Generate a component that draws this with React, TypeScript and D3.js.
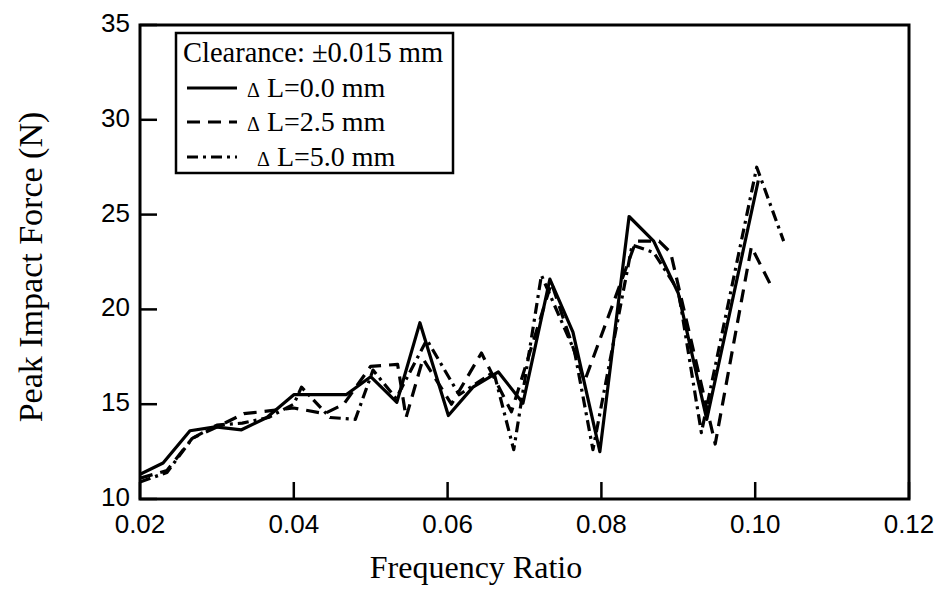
import React from "react";
import * as d3 from "d3";

const xTicks = [0.02, 0.04, 0.06, 0.08, 0.1, 0.12];
const yTicks = [10, 15, 20, 25, 30, 35];

const seriesNames = ["\u0394 L=0.0 mm", "\u0394 L=2.5 mm", "\u0394 L=5.0 mm"];

const x00 = [0.02, 0.023, 0.0265, 0.0298, 0.0332, 0.0365, 0.04, 0.0468, 0.05, 0.0534, 0.0564, 0.0601, 0.0633, 0.0666, 0.0698, 0.0733, 0.0763, 0.0798, 0.0836, 0.0868, 0.09, 0.0937, 0.1004];
const y00 = [11.3, 11.9, 13.6, 13.8, 13.65, 14.3, 15.5, 15.5, 16.45, 15.1, 19.3, 14.4, 15.9, 16.7, 15.05, 21.6, 18.8, 12.5, 24.9, 23.6, 20.85, 14.2, 26.8];

const x25 = [0.02, 0.0235, 0.0268, 0.03, 0.0335, 0.04, 0.044, 0.0465, 0.05, 0.0535, 0.0546, 0.0568, 0.0605, 0.0644, 0.0683, 0.0735, 0.0778, 0.0845, 0.0875, 0.089, 0.0948, 0.0995, 0.102];
const y25 = [11.1, 11.5, 13.2, 13.8, 14.5, 14.8, 14.5, 15.0, 17.0, 17.1, 14.3, 17.4, 15.0, 17.7, 14.6, 21.4, 16.2, 23.6, 23.6, 23.0, 12.9, 23.3, 21.3];

const x50 = [0.02, 0.0235, 0.0268, 0.03, 0.0333, 0.0367, 0.04, 0.041, 0.0447, 0.048, 0.0503, 0.0533, 0.0573, 0.0615, 0.066, 0.0686, 0.0722, 0.0765, 0.0789, 0.084, 0.0868, 0.09, 0.093, 0.1002, 0.1037];
const y50 = [10.9, 11.4, 13.2, 13.9, 14.0, 14.3, 15.0, 15.9, 14.3, 14.2, 16.8, 15.3, 18.4, 15.5, 16.7, 12.6, 21.8, 17.8, 12.6, 23.4, 23.0, 21.0, 13.5, 27.5, 23.6];

const W = 938;
const H = 611;
const left = 140, right = 909, top = 25, bottom = 499;

export default function App() {
  const x = d3.scaleLinear().domain([0.02, 0.12]).range([left, right]);
  const y = d3.scaleLinear().domain([10, 35]).range([bottom, top]);
  const line = d3
    .line<[number, number]>()
    .x((d) => x(d[0]))
    .y((d) => y(d[1]));
  const series = [
    { xs: x00, ys: y00, dash: "none" },
    { xs: x25, ys: y25, dash: "13 8" },
    { xs: x50, ys: y50, dash: "11 5 3 5" },
  ];
  const serif = "'Liberation Serif', 'DejaVu Serif', serif";
  const sans = "'Liberation Sans', Arial, sans-serif";
  const legendRows = [97, 131, 166];
  const legendTextX = [247, 247, 257];
  return (
    <svg width={W} height={H} style={{ position: "absolute", left: 0, top: 0, background: "#fff" }}>
      <rect x={0} y={0} width={W} height={H} fill="#fff" />
      <defs>
        <clipPath id="plot">
          <rect x={left} y={top} width={right - left} height={bottom - top} />
        </clipPath>
      </defs>
      {series.map((s, i) => (
        <path
          key={i}
          d={line(s.xs.map((v, j) => [v, s.ys[j]] as [number, number])) || ""}
          fill="none"
          stroke="#000"
          strokeWidth={3.2}
          strokeDasharray={s.dash}
          strokeLinejoin="round"
          clipPath="url(#plot)"
        />
      ))}
      {/* frame */}
      <rect x={left} y={top} width={right - left} height={bottom - top} fill="none" stroke="#000" strokeWidth={3} />
      {xTicks.map((t) => (
        <g key={"x" + t}>
          <line x1={x(t)} x2={x(t)} y1={bottom} y2={bottom - 17} stroke="#000" strokeWidth={2.5} />
          <text x={x(t)} y={533} textAnchor="middle" fontFamily={sans} fontSize={26}>
            {t.toFixed(2)}
          </text>
        </g>
      ))}
      {yTicks.map((t) => (
        <g key={"y" + t}>
          <line x1={left} x2={left + 17} y1={y(t)} y2={y(t)} stroke="#000" strokeWidth={2.5} />
          <text x={130} y={y(t) + 7} textAnchor="end" fontFamily={sans} fontSize={26}>
            {t}
          </text>
        </g>
      ))}
      <text x={476} y={578} textAnchor="middle" fontFamily={serif} fontSize={32}>
        Frequency Ratio
      </text>
      <text
        transform={`translate(42, ${(top + bottom) / 2 + 5}) rotate(-90)`}
        textAnchor="middle"
        fontFamily={serif}
        fontSize={34}
      >
        Peak Impact Force (N)
      </text>
      {/* legend */}
      <rect x={176} y={33} width={277} height={140} fill="#fff" stroke="#000" strokeWidth={2.5} />
      <text x={183} y={62} fontFamily={serif} fontSize={28.5}>
        Clearance: ±0.015 mm
      </text>
      {series.map((s, i) => (
        <g key={"l" + i}>
          <line
            x1={187}
            x2={237}
            y1={legendRows[i] - 9}
            y2={legendRows[i] - 9}
            stroke="#000"
            strokeWidth={3}
            strokeDasharray={s.dash}
          />
          <text x={legendTextX[i]} y={legendRows[i]} fontFamily={serif} fontSize={28}>
            <tspan fontSize={20}>{"\u0394"}</tspan>
            {seriesNames[i].slice(1)}
          </text>
        </g>
      ))}
    </svg>
  );
}
